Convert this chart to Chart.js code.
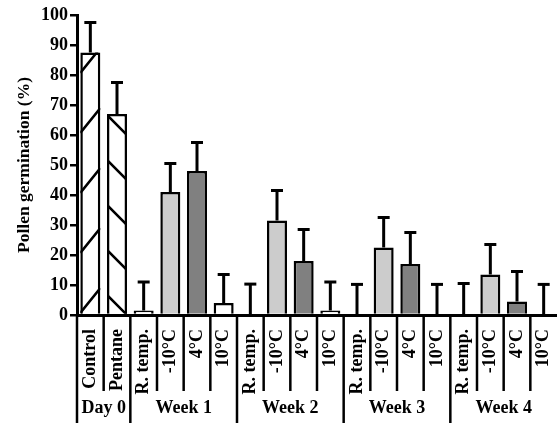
<!DOCTYPE html>
<html>
<head>
<meta charset="utf-8">
<script src="https://cdn.jsdelivr.net/npm/chart.js@4/dist/chart.umd.min.js"></script>
<style>
  html, body { margin: 0; padding: 0; background: #fff; }
  #wrap { width: 557px; height: 426px; }
</style>
</head>
<body>
<div id="wrap"><canvas id="chart"></canvas></div>
<script>
// Treatments, in plotting order
const categories = ['Control', 'Pentane',
  'R. temp.', '-10°C', '4°C', '10°C',
  'R. temp.', '-10°C', '4°C', '10°C',
  'R. temp.', '-10°C', '4°C', '10°C',
  'R. temp.', '-10°C', '4°C', '10°C'];

// Mean pollen germination (%) and its error
const germination = [87.5, 67, 1.5, 41, 48, 4, 0, 31.5, 18, 1.5, 0, 22.5, 17, 0, 0, 13.5, 4.5, 0];
const errors = [10, 10.5, 9.5, 9.5, 9.5, 9.5, 10.3, 10, 10.5, 9.5, 10.2, 10, 10.5, 10.2, 10.5, 10, 10, 10.2];

// Storage periods and how many treatments each one holds
const groups = ['Day 0', 'Week 1', 'Week 2', 'Week 3', 'Week 4'];
const groupSizes = [2, 4, 4, 4, 4];

// Y axis range and step
const yMin = 0;
const yMax = 100;
const yStep = 10;

const SERIF = "'Liberation Serif', 'Times New Roman', serif";
const fillFor = {
  'Control': '#ffffff', 'Pentane': '#ffffff', 'R. temp.': '#ffffff',
  '-10°C': '#cccccc', '4°C': '#808080', '10°C': '#ffffff'
};
// Sparse diagonal hatch on the two day-0 bars: spacing and slope in % units
const hatchFor = {
  'Control': { step: 20, first: 0.7, rise: 8.3 },
  'Pentane': { step: 15, first: 6.7, rise: -6.7 }
};

const hatchPlugin = {
  id: 'hatch',
  afterDatasetsDraw(chart) {
    const ctx = chart.ctx, y = chart.scales.y;
    const meta = chart.getDatasetMeta(0);
    meta.data.forEach((bar, i) => {
      const h = hatchFor[categories[i]];
      if (!h) return;
      const half = bar.width / 2;
      const l = bar.x - half, r = bar.x + half;
      ctx.save();
      ctx.beginPath();
      ctx.rect(l, bar.y, r - l, bar.base - bar.y);
      ctx.clip();
      ctx.strokeStyle = '#000';
      ctx.lineWidth = 2.5;
      ctx.beginPath();
      for (let v = h.first; v - Math.abs(h.rise) < germination[i] + h.step; v += h.step) {
        ctx.moveTo(l, y.getPixelForValue(v));
        ctx.lineTo(r, y.getPixelForValue(v + h.rise));
      }
      ctx.stroke();
      ctx.restore();
    });
  }
};

const errorBarPlugin = {
  id: 'errorBars',
  afterDatasetsDraw(chart) {
    const ctx = chart.ctx, y = chart.scales.y;
    const meta = chart.getDatasetMeta(0);
    ctx.save();
    ctx.strokeStyle = '#000';
    meta.data.forEach((bar, i) => {
      const top = y.getPixelForValue(germination[i]);
      const end = y.getPixelForValue(germination[i] + errors[i]);
      ctx.lineWidth = 3;
      ctx.beginPath();
      ctx.moveTo(bar.x, top);
      ctx.lineTo(bar.x, end);
      ctx.stroke();
      ctx.beginPath();
      ctx.moveTo(bar.x - 6, end);
      ctx.lineTo(bar.x + 6, end);
      ctx.stroke();
    });
    ctx.restore();
  }
};

// Divider lines under the axis and the storage-period labels
const groupAxisPlugin = {
  id: 'groupAxis',
  afterDraw(chart) {
    const ctx = chart.ctx, x = chart.scales.x;
    const top = x.top;
    const shortEnd = top + 76;
    const longEnd = top + 108;
    const groupStarts = [];
    let acc = 0;
    groupSizes.forEach(n => { groupStarts.push(acc); acc += n; });
    groupStarts.push(acc);
    ctx.save();
    ctx.strokeStyle = '#000';
    ctx.lineWidth = 2.5;
    for (let b = 0; b < categories.length; b++) {
      const px = x.getPixelForValue(b - 0.5);
      ctx.beginPath();
      ctx.moveTo(px, top);
      ctx.lineTo(px, groupStarts.includes(b) ? longEnd : shortEnd);
      ctx.stroke();
    }
    ctx.fillStyle = '#000';
    ctx.font = 'bold 18px ' + SERIF;
    ctx.textAlign = 'center';
    ctx.textBaseline = 'middle';
    groups.forEach((g, k) => {
      const a = x.getPixelForValue(groupStarts[k] - 0.5);
      const b = x.getPixelForValue(groupStarts[k + 1] - 0.5);
      ctx.fillText(g, (a + b) / 2, top + 93);
    });
    ctx.restore();
  }
};

new Chart(document.getElementById('chart'), {
  type: 'bar',
  data: {
    labels: categories,
    datasets: [{
      data: germination,
      backgroundColor: categories.map(c => fillFor[c]),
      borderColor: '#000',
      borderWidth: 2.5,
      categoryPercentage: 1,
      barPercentage: 0.75
    }]
  },
  plugins: [hatchPlugin, errorBarPlugin, groupAxisPlugin],
  options: {
    responsive: true,
    maintainAspectRatio: false,
    animation: false,
    devicePixelRatio: 1,
    layout: { padding: { top: 15, right: 0, left: 0, bottom: 0 } },
    plugins: { legend: { display: false }, tooltip: { enabled: false } },
    scales: {
      x: {
        type: 'category',
        offset: true,
        grid: { display: false },
        border: { display: true, color: '#000', width: 3 },
        ticks: {
          color: '#000',
          font: { family: SERIF, size: 18, weight: 'bold' },
          minRotation: 90,
          maxRotation: 90,
          autoSkip: false,
          padding: 6
        },
        afterFit(scale) {
          scale.height = 111;
          scale.paddingLeft = 0;
          scale.paddingRight = 0;
        }
      },
      y: {
        min: yMin,
        max: yMax,
        grid: { drawOnChartArea: false, color: '#000', lineWidth: 2.5, tickLength: 7 },
        border: { display: true, color: '#000', width: 3 },
        ticks: {
          stepSize: yStep,
          color: '#000',
          padding: 2,
          font: { family: SERIF, size: 18, weight: 'bold' }
        },
        title: {
          display: true,
          text: 'Pollen germination (%)',
          color: '#000',
          font: { family: SERIF, size: 17.5, weight: 'bold' },
          padding: { top: 14, bottom: 4 }
        },
        afterFit(scale) { scale.width = 77; }
      }
    }
  }
});
</script>
</body>
</html>
